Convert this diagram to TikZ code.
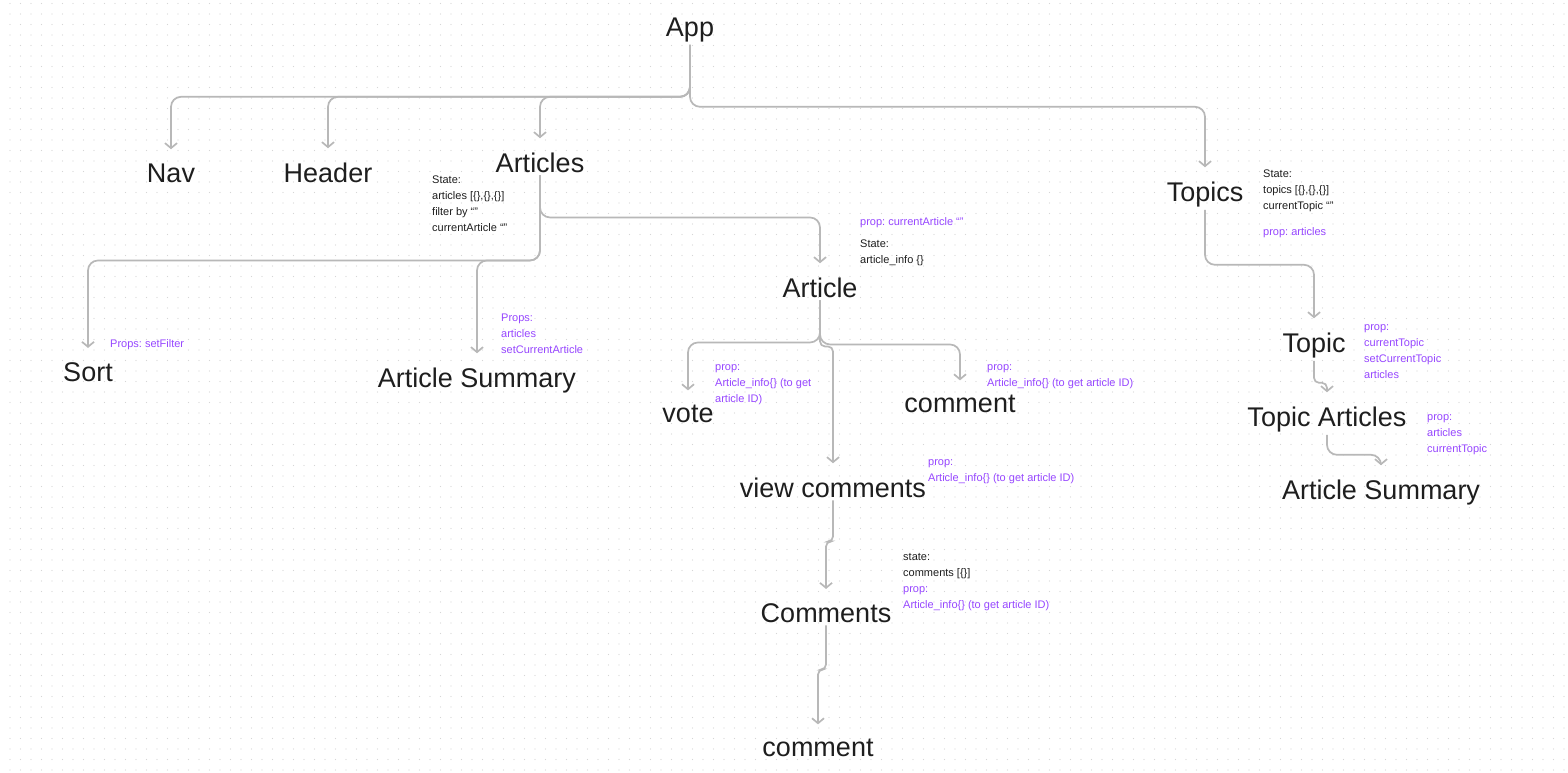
\documentclass[tikz,border=0pt]{standalone}
\usepackage{fontspec}
\setmainfont{Liberation Sans}
\usetikzlibrary{arrows.meta}
\definecolor{ink}{RGB}{30,30,30}
\definecolor{propc}{RGB}{151,71,255}
\definecolor{edgegray}{RGB}{184,184,184}
\tikzstyle{comp} = [anchor=base, inner xsep=2pt, inner ysep=3pt, text=ink, font=\fontsize{27}{32}\selectfont]
\tikzstyle{note} = [anchor=north west, inner sep=0pt, align=left, text=ink, font=\fontsize{11}{16}\selectfont\frenchspacing, execute at begin node=\strut]
\tikzstyle{propnote} = [note, text=propc]
\tikzstyle{edge} = [line width=1.7pt, draw=edgegray, rounded corners=10pt, -{Straight Barb[length=5pt,width=12pt]}, shorten >=11pt]
\tikzstyle{jog} = [edge, rounded corners=5pt]
\tikzstyle{dotgrid} = [black!16, line width=1.4pt, line cap=round, dash pattern=on 0pt off 10.5pt, dash phase=0.5pt]

\begin{document}
\begin{tikzpicture}[x=1pt, y=-1pt]

\useasboundingbox (0,0) rectangle (1568,772);
\fill[white] (0,0) rectangle (1568,772);
\foreach \k in {0,...,73}
  \draw[dotgrid] (0,3.5+10.5*\k) -- (1568,3.5+10.5*\k);

% components
\node (0) [comp] at (690,36) {App};
\node (1) [comp] at (171,182) {Nav};
\node (2) [comp] at (328,182) {Header};
\node (3) [comp] at (540,172) {Articles};
\node (4) [comp] at (1205,201) {Topics};
\node (5) [comp] at (88,381) {Sort};
\node (6) [comp] at (477,387) {Article Summary};
\node (7) [comp] at (820,297) {Article};
\node (8) [comp] at (688,422) {vote};
\node (9) [comp] at (960,412) {comment};
\node (10) [comp] at (833,497) {view comments};
\node (11) [comp] at (826,622) {Comments};
\node (12) [comp] at (818,756) {comment};
\node (13) [comp] at (1314,352) {Topic};
\node (14) [comp] at (1327,426) {Topic Articles};
\node (15) [comp] at (1381,499) {Article Summary};

% state and props
\node (n3) [note] at (432,176) {State:\\articles [\{\},\{\},\{\}]\\filter by “”\\currentArticle “”};
\node (n7p) [propnote] at (860,214) {prop: currentArticle “”};
\node (n7s) [note] at (860,240) {State:\\article\_info \{\}};
\node (n4s) [note] at (1263,170) {State:\\topics [\{\},\{\},\{\}]\\currentTopic “”};
\node (n4p) [propnote] at (1263,224) {prop: articles};
\node (n5) [propnote] at (110,336) {Props: setFilter};
\node (n6) [propnote] at (501,314) {Props:\\articles\\setCurrentArticle};
\node (n8) [propnote] at (715,364) {prop:\\Article\_info\{\} (to get\\article ID)};
\node (n9) [propnote] at (987,364) {prop:\\Article\_info\{\} (to get article ID)};
\node (n10) [propnote] at (928,459) {prop:\\Article\_info\{\} (to get article ID)};
\node (n11) [note] at (903,553) {state:\\comments [\{\}]\\\textcolor{propc}{prop:}\\\textcolor{propc}{Article\_info\{\} (to get article ID)}};
\node (n13) [propnote] at (1364,324) {prop:\\currentTopic\\setCurrentTopic\\articles};
\node (n14) [propnote] at (1427,414) {prop:\\articles\\currentTopic};

% connectors
\draw [edge] (0.south) -- ++(0,52) -| (1.north);
\draw [edge] (0.south) -- ++(0,52) -| (2.north);
\draw [edge] (0.south) -- ++(0,52) -| (3.north);
\draw [edge] (0.south) -- ++(0,62) -| (4.north);
\draw [edge] (3.south) -- ++(0,85) -| (5.north);
\draw [edge] (3.south) -- ++(0,85) -| (6.north);
\draw [edge] (3.south) -- ++(0,42) -| (7.north);
\draw [edge] (7.south) -- ++(0,42) -| (8.north);
\draw [edge] (7.south) -- ++(0,44) -| (9.north);
\draw [jog] (7.south) -- ++(0,46) -| (10.north);
\draw [jog] (10.south) -- ++(0,41) -| (11.north);
\draw [jog] (11.south) -- ++(0,44) -| (12.north);
\draw [edge] (4.south) -- ++(0,55) -| (13.north);
\draw [jog] (13.south) -- ++(0,22) -| (14.north);
\draw [edge] (14.south) -- ++(0,20) -| (15.north);

\end{tikzpicture}
\end{document}
